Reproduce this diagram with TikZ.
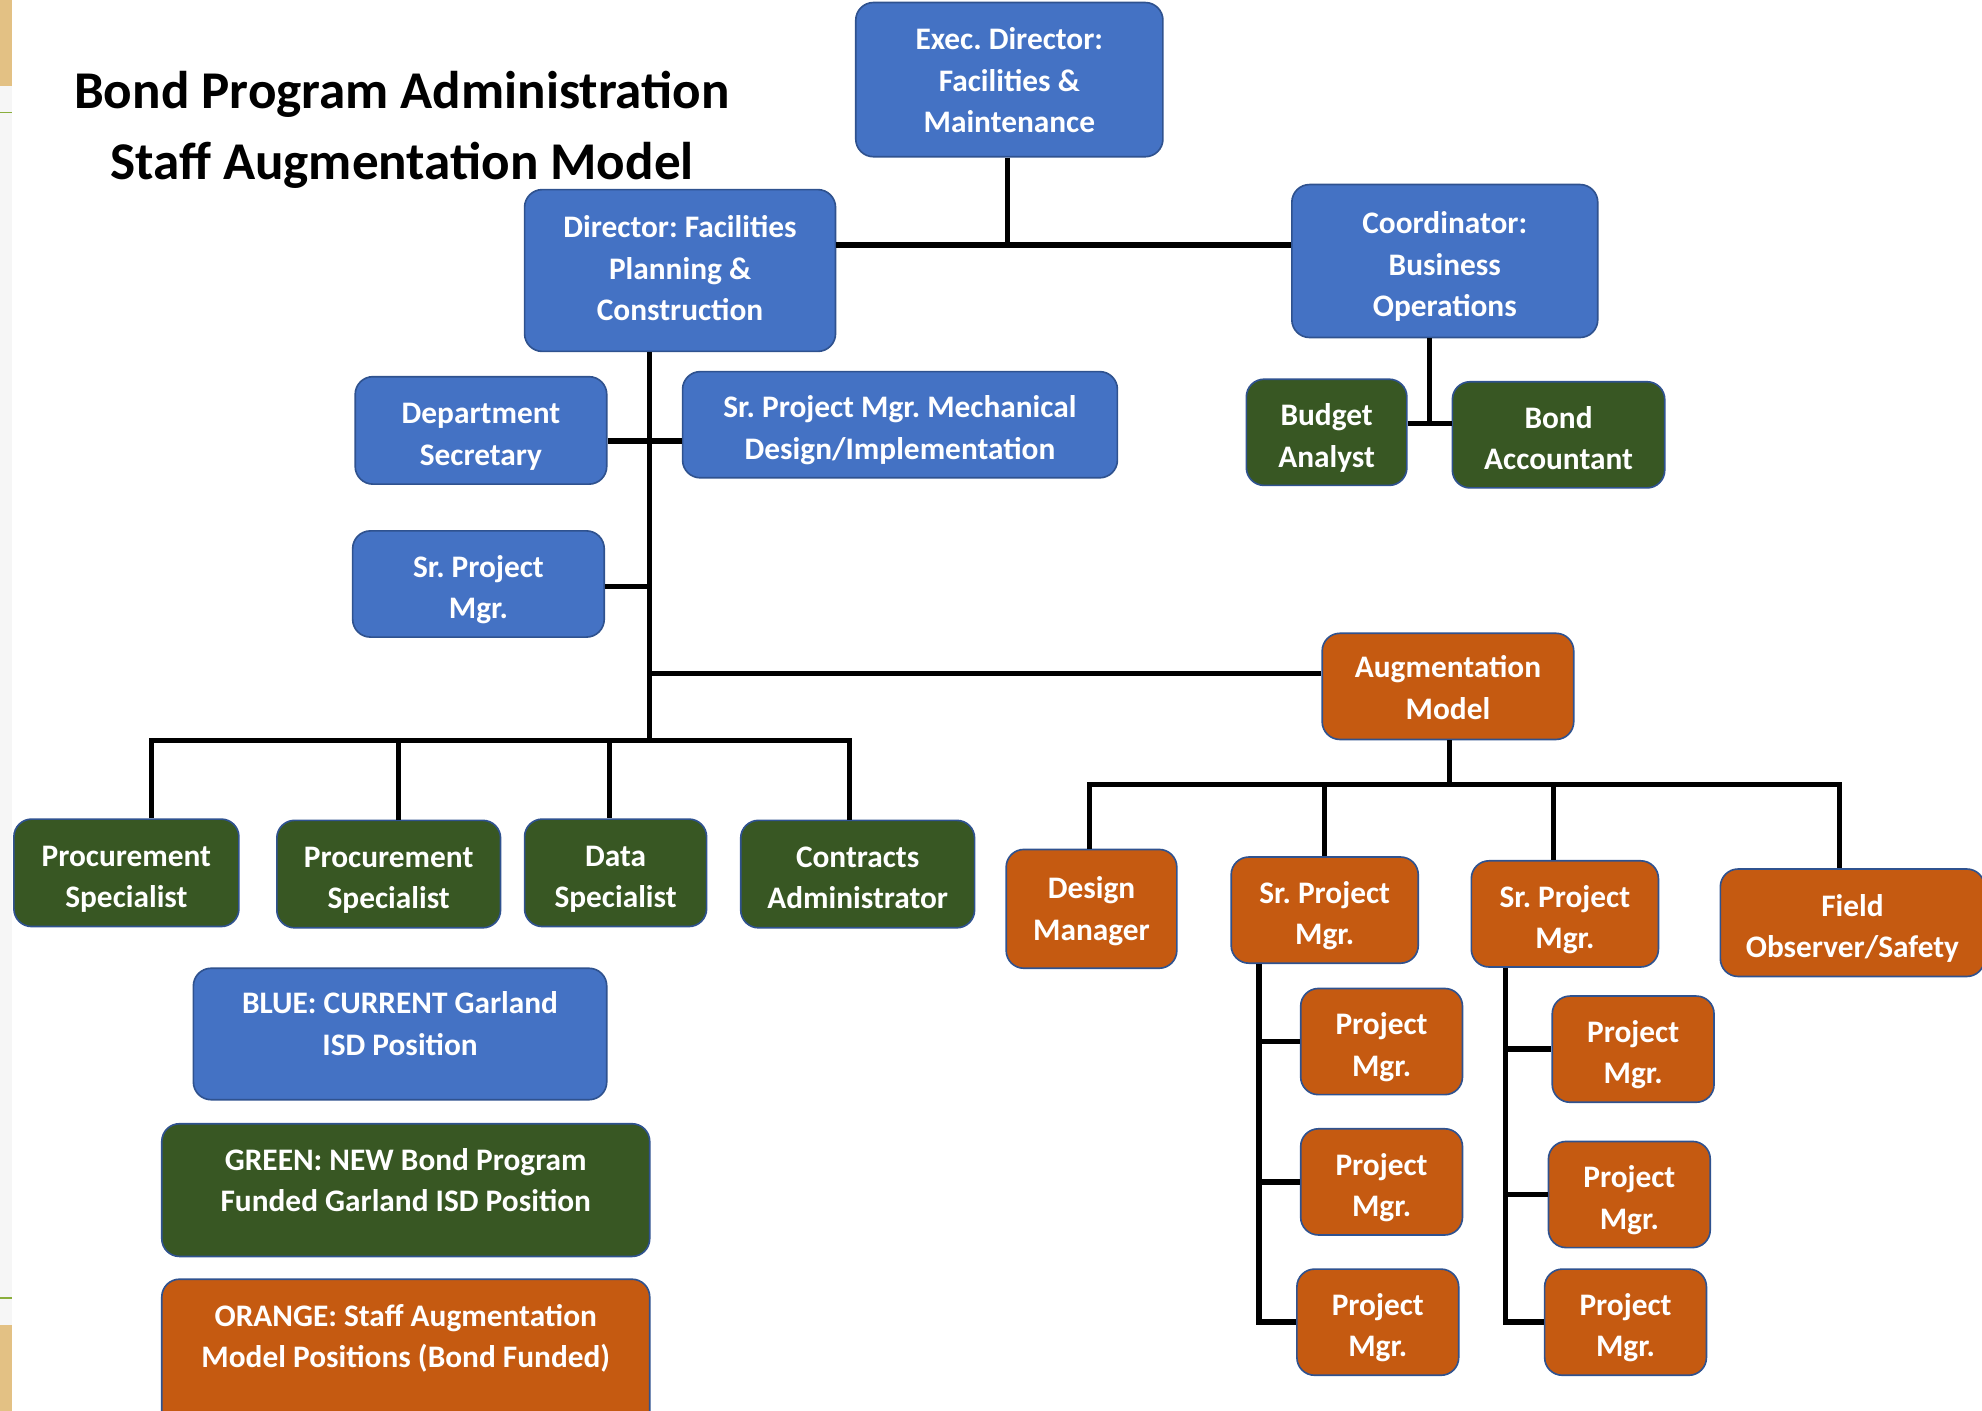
\documentclass[tikz,border=0pt]{standalone}
\usepackage{fontspec}
\setmainfont{Carlito}
\definecolor{cblue}{HTML}{4472C4}
\definecolor{cgreen}{HTML}{385723}
\definecolor{corange}{HTML}{C55A11}
\definecolor{cborder}{HTML}{2F528F}
\definecolor{beige}{HTML}{E3C184}
\definecolor{lgreen}{HTML}{8AAE3C}
\frenchspacing
\newcommand\bt[2][-4.5pt]{\raisebox{#1}[\height][\depth]{\begin{tabular}{@{}c@{}}#2\end{tabular}}}
\begin{document}
\begin{tikzpicture}[x=1pt,y=-1pt,
  box/.style={draw=cborder, line width=1.3pt, rounded corners=14pt, text=white,
    font=\fontsize{24.8}{32.8}\selectfont\bfseries, inner sep=0pt},
  bluebox/.style={box, fill=cblue},
  greenbox/.style={box, fill=cgreen},
  orangebox/.style={box, fill=corange},
  sz/.style 2 args={minimum width=#1pt, minimum height=#2pt},
  conn/.style={line width=4.5pt, black},
  thinconn/.style={line width=4pt, black},
]
\useasboundingbox (0,0) rectangle (1568,1116);
\clip (0,0) rectangle (1568,1116);

% left edge decoration
\fill[beige] (0,0) rectangle (9.5,68);
\fill[gray!7] (0,68) rectangle (9.5,1048);
\draw[lgreen, line width=1.5pt] (0,89) -- (9.5,89);
\draw[lgreen, line width=1.5pt] (0,1027) -- (9.5,1027);
\fill[beige] (0,1048) rectangle (9.5,1116);

% title
\node[font=\fontsize{42}{56}\selectfont\bfseries, align=center, text=black] (title) at (318,103)
  {Bond Program Administration\\Staff Augmentation Model};

% blue boxes
\node[bluebox, sz={243}{122}] (exec) at (798.5,63) {\bt[-2.5pt]{Exec. Director:\\Facilities \&\\Maintenance}};
\node[bluebox, sz={246}{128}] (dir) at (538,214) {\bt[-0.5pt]{Director: Facilities\\Planning \&\\Construction}};
\node[bluebox, sz={242}{121}] (coord) at (1143,206.5) {\bt{Coordinator:\\Business\\Operations}};
\node[bluebox, sz={199}{85}] (dsec) at (380.5,340.5) {\bt{Department\\Secretary}};
\node[bluebox, sz={344}{84}] (mech) at (712,336) {\bt{Sr. Project Mgr. Mechanical\\Design/Implementation}};
\node[bluebox, sz={199}{84}] (srpm) at (378.5,462) {\bt{Sr. Project\\Mgr.}};

% green boxes
\node[greenbox, sz={127}{84}] (budget) at (1049.5,342) {\bt{Budget\\Analyst}};
\node[greenbox, sz={168}{84}] (bondacc) at (1233,344) {\bt{Bond\\Accountant}};
\node[greenbox, sz={178}{85}] (ps1) at (100,690.5) {\bt{Procurement\\Specialist}};
\node[greenbox, sz={177}{85}] (ps2) at (307.5,691.5) {\bt{Procurement\\Specialist}};
\node[greenbox, sz={144}{85}] (data) at (487,690.5) {\bt{Data\\Specialist}};
\node[greenbox, sz={185}{85}] (contracts) at (678.5,691.5) {\bt{Contracts\\Administrator}};

% orange boxes
\node[orangebox, sz={199}{84}] (aug) at (1145.5,543) {\bt[-3pt]{Augmentation\\Model}};
\node[orangebox, sz={135}{94}] (design) at (863.5,719) {\bt[-2pt]{Design\\Manager}};
\node[orangebox, sz={148}{84}] (sr1) at (1048,720) {\bt{Sr. Project\\Mgr.}};
\node[orangebox, sz={148}{84}] (sr2) at (1238,723) {\bt{Sr. Project\\Mgr.}};
\node[orangebox, sz={209}{85}] (field) at (1465.5,730) {\bt{Field\\Observer/Safety}};
\node[orangebox, sz={128}{84}] (pm11) at (1093,824) {\bt{Project\\Mgr.}};
\node[orangebox, sz={128}{84}] (pm12) at (1093,935) {\bt{Project\\Mgr.}};
\node[orangebox, sz={128}{84}] (pm13) at (1090,1046) {\bt{Project\\Mgr.}};
\node[orangebox, sz={128}{84}] (pm21) at (1292,830) {\bt{Project\\Mgr.}};
\node[orangebox, sz={128}{84}] (pm22) at (1289,945) {\bt{Project\\Mgr.}};
\node[orangebox, sz={128}{84}] (pm23) at (1286,1046) {\bt{Project\\Mgr.}};

% legend
\node[bluebox, sz={327}{104}] (lblue) at (316.5,818) {\bt[6pt]{BLUE: CURRENT Garland\\ISD Position}};
\node[greenbox, sz={386}{105}] (lgreenbox) at (321,941.5) {\bt[6pt]{GREEN: NEW Bond Program\\Funded Garland ISD Position}};
\node[orangebox, sz={386}{120}] (lorange) at (321,1072) {};
\node[text=white, font=\fontsize{24.8}{32.8}\selectfont\bfseries, inner sep=0pt] (lotext) at (321,1059)
  {\bt[0pt]{ORANGE: Staff Augmentation\\Model Positions (Bond Funded)}};

% connectors
\coordinate (jE) at (797,194);
\draw[conn] (exec.south -| jE) -- (jE);
\draw[conn] (dir.east |- jE) -- (coord.west |- jE);

\coordinate (tr) at (513.5,585.5);
\draw[thinconn] (dir.south -| tr) -- (tr);
\coordinate (jS) at (513.5,349);
\draw[conn] (dsec.east |- jS) -- (mech.west |- jS);
\coordinate (jP) at (513.5,464);
\draw[conn] (srpm.east |- jP) -- (jP);
\coordinate (jA) at (513.5,532.5);
\draw[thinconn] (jA) -- (aug.west |- jA);

\coordinate (b1) at (120,585.5);
\coordinate (b2) at (315,585.5);
\coordinate (b3) at (482,585.5);
\coordinate (b4) at (672,585.5);
\draw[thinconn] (ps1.north -| b1) -- (b1) -- (b4) -- (contracts.north -| b4);
\draw[thinconn] (b2) -- (ps2.north -| b2);
\draw[thinconn] (b3) -- (data.north -| b3);

\coordinate (jC) at (1131,335);
\draw[conn] (coord.south -| jC) -- (jC);
\draw[conn] (budget.east |- jC) -- (bondacc.west |- jC);

\coordinate (jB) at (1146.5,620.5);
\draw[thinconn] (aug.south -| jB) -- (jB);
\coordinate (a1) at (862,620.5);
\coordinate (a2) at (1048,620.5);
\coordinate (a3) at (1229,620.5);
\coordinate (a4) at (1455.5,620.5);
\draw[thinconn] (design.north -| a1) -- (a1) -- (a4) -- (field.north -| a4);
\draw[thinconn] (a2) -- (sr1.north -| a2);
\draw[thinconn] (a3) -- (sr2.north -| a3);

\coordinate (c1) at (996,0);
\draw[conn] (sr1.south -| c1) -- (pm13.west -| c1) -- (pm13.west);
\draw[conn] (pm11.west -| c1) -- (pm11.west);
\draw[conn] (pm12.west -| c1) -- (pm12.west);
\coordinate (c2) at (1191,0);
\draw[conn] (sr2.south -| c2) -- (pm23.west -| c2) -- (pm23.west);
\draw[conn] (pm21.west -| c2) -- (pm21.west);
\draw[conn] (pm22.west -| c2) -- (pm22.west);
\end{tikzpicture}
\end{document}
